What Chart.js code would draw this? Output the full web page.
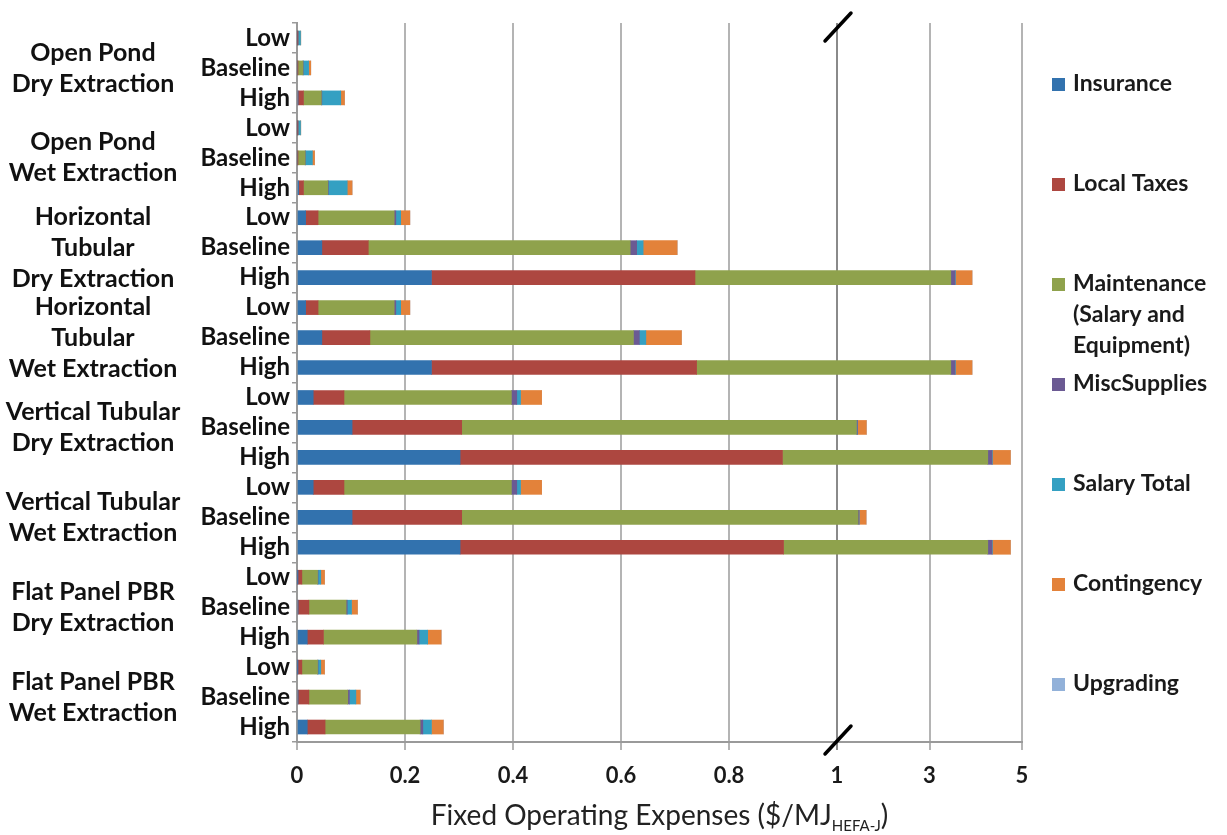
<!DOCTYPE html>
<html>
<head>
<meta charset="utf-8">
<script src="https://cdn.jsdelivr.net/npm/chart.js@4/dist/chart.umd.min.js"></script>
<style>
  html, body { margin: 0; padding: 0; background: #ffffff; }
  #wrap { width: 1227px; height: 835px; }
</style>
</head>
<body>
<div id="wrap"><canvas id="chart" width="1227" height="835"></canvas></div>
<script>
// Cultivation system / extraction route groups (multi-line labels)
const groups = [
  ['Open Pond', 'Dry Extraction'],
  ['Open Pond', 'Wet Extraction'],
  ['Horizontal', 'Tubular', 'Dry Extraction'],
  ['Horizontal', 'Tubular', 'Wet Extraction'],
  ['Vertical Tubular', 'Dry Extraction'],
  ['Vertical Tubular', 'Wet Extraction'],
  ['Flat Panel PBR', 'Dry Extraction'],
  ['Flat Panel PBR', 'Wet Extraction']
];
const scenarios = ['Low', 'Baseline', 'High'];

// Cost components, in stacking order
const seriesNames = ['Insurance', 'Local Taxes', ['Maintenance', '(Salary and', 'Equipment)'],
  'MiscSupplies', 'Salary Total', 'Contingency', 'Upgrading'];
const seriesColors = ['#3272ae', '#ad4740', '#8fa24c', '#6b5a93', '#34a0c2', '#e3823a', '#92b1d9'];

// $/MJ, one value per row (group x scenario), top to bottom
const insurance    = [0, 0, 0.002,  0, 0, 0.003,  0.016, 0.046, 0.249,  0.016, 0.046, 0.249,
                      0.030, 0.102, 0.302,  0.030, 0.102, 0.302,  0.001, 0.002, 0.019,  0.001, 0.002, 0.019];
const localTaxes   = [0.0005, 0.001, 0.010,  0.0005, 0.001, 0.009,  0.023, 0.086, 0.488,  0.023, 0.089, 0.491,
                      0.057, 0.203, 0.597,  0.057, 0.203, 0.599,  0.008, 0.020, 0.030,  0.008, 0.020, 0.033];
const maintenance  = [0.001, 0.010, 0.033,  0.001, 0.014, 0.045,  0.141, 0.485, 2.723,  0.141, 0.488, 2.720,
                      0.310, 1.115, 3.361,  0.310, 1.150, 3.359,  0.029, 0.069, 0.173,  0.029, 0.072, 0.176];
const miscSupplies = [0, 0.0005, 0.001,  0, 0.0005, 0.001,  0.003, 0.012, 0.090,  0.003, 0.011, 0.090,
                      0.010, 0.020, 0.090,  0.010, 0.020, 0.090,  0.001, 0.002, 0.004,  0.001, 0.003, 0.005];
const salaryTotal  = [0.005, 0.010, 0.035,  0.005, 0.013, 0.035,  0.009, 0.012, 0.010,  0.009, 0.012, 0.010,
                      0.007, 0.005, 0.010,  0.007, 0.005, 0.010,  0.005, 0.008, 0.016,  0.005, 0.012, 0.016];
const contingency  = [0.0005, 0.004, 0.007,  0.0005, 0.004, 0.009,  0.017, 0.063, 0.360,  0.017, 0.066, 0.360,
                      0.039, 0.190, 0.390,  0.039, 0.150, 0.390,  0.007, 0.011, 0.025,  0.007, 0.008, 0.022];
const upgrading    = [0, 0, 0,  0, 0, 0,  0, 0, 0,  0, 0, 0,
                      0, 0, 0,  0, 0, 0,  0, 0, 0,  0, 0, 0];

const xTickValues = [0, 0.2, 0.4, 0.6, 0.8, 1, 3, 5];
const axisTitle = 'Fixed Operating Expenses ($/MJ';
const axisTitleSub = 'HEFA-J';

const seriesValues = [insurance, localTaxes, maintenance, miscSupplies, salaryTotal, contingency, upgrading];
const rowLabels = groups.flatMap(() => scenarios);

// Value axis with a break at 1: 0..1 uses most of the length, 1..5 is compressed
const AXIS_BREAK = 1;
const BREAK_SHARE = 540 / 725;
class BrokenLinearScale extends Chart.LinearScale {
  buildTicks() {
    return xTickValues.map(v => ({ value: v }));
  }
  getPixelForValue(value) {
    if (value === null || value === undefined || isNaN(value)) return NaN;
    let d;
    if (value <= AXIS_BREAK) {
      d = (value - this.min) / (AXIS_BREAK - this.min) * BREAK_SHARE;
    } else {
      d = BREAK_SHARE + (value - AXIS_BREAK) / (this.max - AXIS_BREAK) * (1 - BREAK_SHARE);
    }
    return this.getPixelForDecimal(d);
  }
  getValueForPixel(pixel) {
    const d = this.getDecimalForPixel(pixel);
    if (d <= BREAK_SHARE) return this.min + d / BREAK_SHARE * (AXIS_BREAK - this.min);
    return AXIS_BREAK + (d - BREAK_SHARE) / (1 - BREAK_SHARE) * (this.max - AXIS_BREAK);
  }
}
BrokenLinearScale.id = 'brokenLinear';
BrokenLinearScale.defaults = Chart.LinearScale.defaults;
Chart.register(BrokenLinearScale);

const FONT = 'Lato';
const GROUP_FONT_SIZE = 25;
const GROUP_AXIS_WIDTH = 202;
const GROUP_LABEL_CENTER = 93;

// centre the group names at a fixed x by padding from the widest line
const measure = document.createElement('canvas').getContext('2d');
measure.font = `bold ${GROUP_FONT_SIZE}px ${FONT}`;
const widestGroupLine = Math.max(...groups.flat().map(t => measure.measureText(t).width));
const groupPadding = Math.max(0, GROUP_AXIS_WIDTH - GROUP_LABEL_CENTER - widestGroupLine / 2);

// labels of the side axes may overhang the plot; keep the plot edges fixed
const noOverhang = s => { s.paddingTop = 0; s.paddingBottom = 0; };

const decorations = {
  id: 'decorations',
  afterDraw(chart) {
    const { ctx, chartArea: a } = chart;
    const x = chart.scales.x;
    ctx.save();

    // break marks on the value axis
    const bx = x.getPixelForValue(AXIS_BREAK);
    ctx.strokeStyle = '#000000';
    ctx.lineWidth = 3.5;
    ctx.lineCap = 'round';
    [a.top + 4, a.bottom - 2].forEach(cy => {
      ctx.beginPath();
      ctx.moveTo(bx - 12, cy + 14);
      ctx.lineTo(bx + 14, cy - 14);
      ctx.stroke();
    });

    // legend on the right
    const lx = a.right + 30;
    let ly = a.top + 61;
    ctx.font = `bold 23px ${FONT}`;
    ctx.textBaseline = 'middle';
    ctx.textAlign = 'left';
    chart.data.datasets.forEach((ds, i) => {
      const lines = Array.isArray(seriesNames[i]) ? seriesNames[i] : [seriesNames[i]];
      ctx.fillStyle = ds.backgroundColor;
      ctx.fillRect(lx, ly - 6, 13, 13);
      ctx.fillStyle = '#1a1a1a';
      lines.forEach((t, k) => ctx.fillText(t, lx + 21, ly + k * 31));
      ly += 100;
    });

    // axis title with subscript
    ctx.fillStyle = '#222222';
    ctx.textBaseline = 'alphabetic';
    const mainFont = `28px ${FONT}`;
    const subFont = `15px ${FONT}`;
    ctx.font = mainFont;
    const w1 = ctx.measureText(axisTitle).width;
    const w3 = ctx.measureText(')').width;
    ctx.font = subFont;
    const w2 = ctx.measureText(axisTitleSub).width;
    let tx = (a.left + a.right) / 2 - (w1 + w2 + w3) / 2;
    const ty = 825;
    ctx.font = mainFont;
    ctx.fillText(axisTitle, tx, ty);
    tx += w1;
    ctx.font = subFont;
    ctx.fillText(axisTitleSub, tx, ty + 6);
    tx += w2;
    ctx.font = mainFont;
    ctx.fillText(')', tx, ty);
    ctx.restore();
  }
};

new Chart(document.getElementById('chart'), {
  type: 'bar',
  data: {
    labels: rowLabels,
    datasets: seriesValues.map((vals, i) => ({
      label: [].concat(seriesNames[i]).join(' '),
      data: vals,
      backgroundColor: seriesColors[i],
      borderWidth: 0,
      barThickness: 14,
      xAxisID: 'x',
      yAxisID: 'y'
    }))
  },
  options: {
    indexAxis: 'y',
    responsive: false,
    animation: false,
    layout: { padding: { top: 23, right: 205, bottom: 48, left: 0 } },
    plugins: { legend: { display: false }, tooltip: { enabled: false } },
    scales: {
      x: {
        type: 'brokenLinear',
        position: 'bottom',
        stacked: true,
        min: 0,
        max: 5,
        grid: {
          color: ctx => (ctx.tick && ctx.tick.value === AXIS_BREAK ? '#8a8a8a' : '#b4b4b4'),
          lineWidth: 2,
          drawTicks: true,
          tickLength: 8
        },
        border: { color: '#9a9a9a', width: 2 },
        ticks: {
          autoSkip: false,
          maxRotation: 0,
          padding: 13,
          color: '#1a1a1a',
          font: { family: FONT, size: 22, weight: 'bold' },
          callback: v => String(Math.round(v * 10) / 10)
        },
        afterFit: s => { s.height = 45; }
      },
      y: {
        type: 'category',
        position: 'left',
        stacked: true,
        weight: 0,
        offset: true,
        grid: { offset: true, drawOnChartArea: false, drawTicks: true, tickLength: 5, color: '#9a9a9a', lineWidth: 1.5 },
        border: { color: '#9a9a9a', width: 2 },
        ticks: {
          autoSkip: false,
          padding: 2,
          color: '#111111',
          font: { family: FONT, size: 24, weight: 'bold' }
        },
        afterFit: s => { s.width = 95; noOverhang(s); }
      },
      group: {
        type: 'category',
        axis: 'y',
        position: 'left',
        weight: 10,
        offset: true,
        labels: groups,
        grid: { display: false, drawTicks: false },
        border: { display: false },
        ticks: {
          autoSkip: false,
          crossAlign: 'center',
          padding: groupPadding,
          color: '#111111',
          font: { family: FONT, size: GROUP_FONT_SIZE, weight: 'bold', lineHeight: 1.24 }
        },
        afterFit: s => { s.width = GROUP_AXIS_WIDTH; noOverhang(s); }
      }
    }
  },
  plugins: [decorations]
});
</script>
</body>
</html>
